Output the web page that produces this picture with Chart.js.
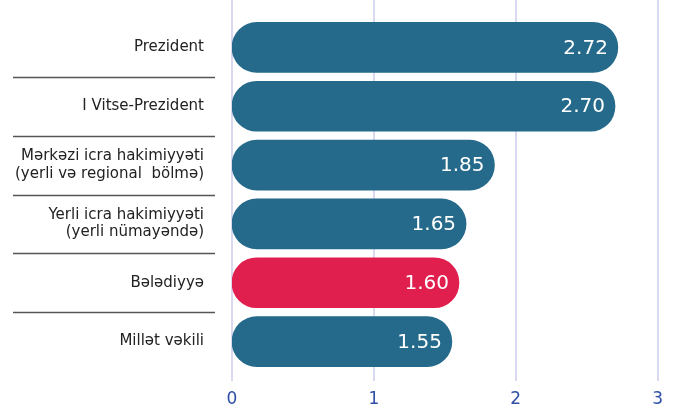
<!DOCTYPE html>
<html>
<head>
<meta charset="utf-8">
<script src="https://cdn.jsdelivr.net/npm/chart.js@4"></script>
<style>
  html, body { margin: 0; padding: 0; background: #fff; }
  #wrap { width: 673px; height: 416px; }
</style>
</head>
<body>
<div id="wrap"><canvas id="chart" width="673" height="416"></canvas></div>
<script>
// categories and values
const categories = [
  ["Prezident"],
  ["I Vitse-Prezident"],
  ["Mərkəzi icra hakimiyyəti", "(yerli və regional  bölmə)"],
  ["Yerli icra hakimiyyəti", "(yerli nümayəndə)"],
  ["Bələdiyyə"],
  ["Millət vəkili"]
]
const scores = [2.72, 2.70, 1.85, 1.65, 1.60, 1.55]
const xTicks = [0, 1, 2, 3]

const BLUE = "#256a8b"
const RED = "#e11f4f"
const barColors = categories.map(c => c[0] === "Bələdiyyə" ? RED : BLUE)

// vertical grid lines run above and below the bars
const gridPlugin = {
  id: "fullGrid",
  beforeDatasetsDraw(chart) {
    const { ctx, scales } = chart
    ctx.save()
    ctx.strokeStyle = "#d9d9ef"
    ctx.lineWidth = 2
    xTicks.forEach(v => {
      const x = Math.round(scales.x.getPixelForValue(v))
      ctx.beginPath()
      ctx.moveTo(x, 0)
      ctx.lineTo(x, 381)
      ctx.stroke()
    })
    ctx.restore()
  }
}

// dark separator lines between the category labels
const separatorPlugin = {
  id: "separators",
  afterDraw(chart) {
    const { ctx, scales } = chart
    const y = scales.y
    ctx.save()
    ctx.strokeStyle = "#555"
    ctx.lineWidth = 1.5
    for (let i = 0; i < categories.length - 1; i++) {
      const yy = Math.round((y.getPixelForValue(i) + y.getPixelForValue(i + 1)) / 2) + 0.5
      ctx.beginPath()
      ctx.moveTo(13, yy)
      ctx.lineTo(215, yy)
      ctx.stroke()
    }
    ctx.restore()
  }
}

// white value labels inside the bar ends
const valuePlugin = {
  id: "values",
  afterDatasetsDraw(chart) {
    const { ctx } = chart
    const meta = chart.getDatasetMeta(0)
    ctx.save()
    ctx.fillStyle = "#fff"
    ctx.font = "20px 'DejaVu Sans'"
    ctx.textAlign = "right"
    ctx.textBaseline = "middle"
    meta.data.forEach((bar, i) => {
      ctx.fillText(scores[i].toFixed(2), bar.x - 10, bar.y + 1)
    })
    ctx.restore()
  }
}

new Chart(document.getElementById("chart"), {
  type: "bar",
  data: {
    labels: categories,
    datasets: [{
      data: scores,
      backgroundColor: barColors,
      borderRadius: 25,
      borderSkipped: false,
      barThickness: 50
    }]
  },
  options: {
    indexAxis: "y",
    responsive: false,
    animation: false,
    layout: { padding: { top: 18, right: 10, left: 0, bottom: 0 } },
    plugins: { legend: { display: false }, tooltip: { enabled: false } },
    scales: {
      x: {
        min: 0,
        max: 3,
        afterBuildTicks: s => { s.ticks = xTicks.map(v => ({ value: v })) },
        afterFit: s => { s.height = 45 },
        grid: { display: false },
        border: { display: false },
        ticks: {
          color: "#2e4fa6",
          font: { family: "'DejaVu Sans'", size: 17 },
          padding: 10
        }
      },
      y: {
        afterFit: s => {
          s.width = 232
          s.paddingTop = 0
          s.paddingBottom = 0
        },
        grid: { display: false },
        border: { display: false },
        ticks: {
          color: "#222",
          font: { family: "'DejaVu Sans'", size: 15, lineHeight: 1.15 },
          padding: 20
        }
      }
    }
  },
  plugins: [gridPlugin, separatorPlugin, valuePlugin]
})
</script>
</body>
</html>
